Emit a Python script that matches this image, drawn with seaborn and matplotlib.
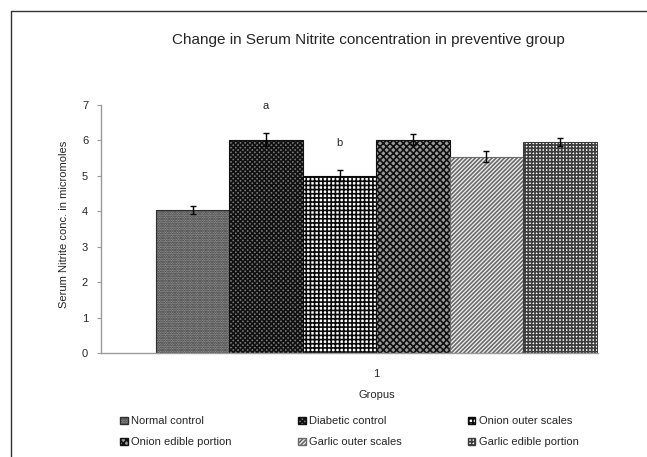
import pandas as pd
import seaborn as sns
import matplotlib.pyplot as plt
from matplotlib.lines import Line2D

# data
groups = ['Normal control', 'Diabetic control', 'Onion outer scales',
          'Onion edible portion', 'Garlic outer scales', 'Garlic edible portion']
nitrite = [4.05, 6.02, 5.01, 6.02, 5.54, 5.96]
sem = [0.11, 0.18, 0.15, 0.15, 0.15, 0.12]
category = ['1'] * 6
letters = ['', 'a', 'b', '', '', '']
letter_y = [0, 6.97, 5.93, 0, 0, 0]

sns.set_style('white')
plt.rcParams['font.family'] = ['Liberation Sans', 'DejaVu Sans']
plt.rcParams['hatch.linewidth'] = 1.2

df = pd.DataFrame({'x': category, 'group': groups, 'value': nitrite})

fig = plt.figure(figsize=(6.47, 4.57), dpi=100)
ax = fig.add_axes([0.1556, 0.2269, 0.7684, 0.5433])

sns.barplot(data=df, x='x', y='value', hue='group', hue_order=groups,
            errorbar=None, width=0.8, gap=0, ax=ax, legend=True)

# pattern fills, hatch colour follows the edge colour
styles = [
    ('#a4a4a4', '.......', '#2e2e2e'),
    ('#7a7a7a', 'xxxxxxx', '#111111'),
    ('#ffffff', '++++', '#0a0a0a'),
    ('#9a9a9a', 'xxxxx', '#111111'),
    ('#f2f2f2', '////////', '#6a6a6a'),
    ('#ffffff', '+++++', '#3c3c3c'),
]
bars = [p for p in ax.patches if p.get_height() > 0][:6]
for bar, (fc, h, ec) in zip(bars, styles):
    bar.set_facecolor(fc)
    bar.set_hatch(h)
    bar.set_edgecolor(ec)
    bar.set_linewidth(0.8)

centers = [b.get_x() + b.get_width() / 2 for b in bars]
ax.errorbar(centers, nitrite, yerr=sem, fmt='none', ecolor='black',
            elinewidth=1, capsize=2.5, capthick=1)

for cx, t, ty in zip(centers, letters, letter_y):
    if t:
        ax.text(cx, ty, t, ha='center', va='center', fontsize=8)

ax.set_ylim(0, 7)
ax.set_xlim(-0.5, 0.402)
ax.set_yticks(range(0, 8))
ax.tick_params(axis='y', labelsize=8, length=3, color='#999999', pad=6, left=True)
ax.tick_params(axis='x', labelsize=8, length=0, pad=11)
for s in ['top', 'right']:
    ax.spines[s].set_visible(False)
for s in ['left', 'bottom']:
    ax.spines[s].set_color('#9a9a9a')
    ax.spines[s].set_linewidth(1)

ax.set_xlabel('Gropus', fontsize=8)
ax.xaxis.set_label_coords(0.555, -0.146)
ax.set_ylabel('Serum Nitrite conc. in micromoles', fontsize=8)
ax.yaxis.set_label_coords(-0.063, 0.52)

fig.text(0.569, 0.912, 'Change in Serum Nitrite concentration in preventive group',
         ha='center', va='center', fontsize=11)

handles, labels = ax.get_legend_handles_labels()
ax.get_legend().remove()
for hd, (fc, h, ec) in zip(handles, styles):
    hd.set_facecolor(fc)
    hd.set_hatch(h)
    hd.set_edgecolor(ec)
order = [0, 3, 1, 4, 2, 5]
fig.legend([handles[i] for i in order], [labels[i] for i in order],
           loc='upper left', bbox_to_anchor=(120 / 647, 0.089), ncol=3,
           frameon=False, fontsize=8, borderpad=0, borderaxespad=0,
           handlelength=0.7, handleheight=0.7, handletextpad=0.3,
           columnspacing=5.95, labelspacing=1.0)

# frame of the original figure (only left and top edge visible)
x0 = 10.5 / 647
y0 = 1 - 11 / 457
fig.add_artist(Line2D([x0, x0], [0, y0], transform=fig.transFigure,
                      color='#333333', linewidth=1))
fig.add_artist(Line2D([x0, 1], [y0, y0], transform=fig.transFigure,
                      color='#333333', linewidth=1))

fig.savefig('out.png', dpi=100)
